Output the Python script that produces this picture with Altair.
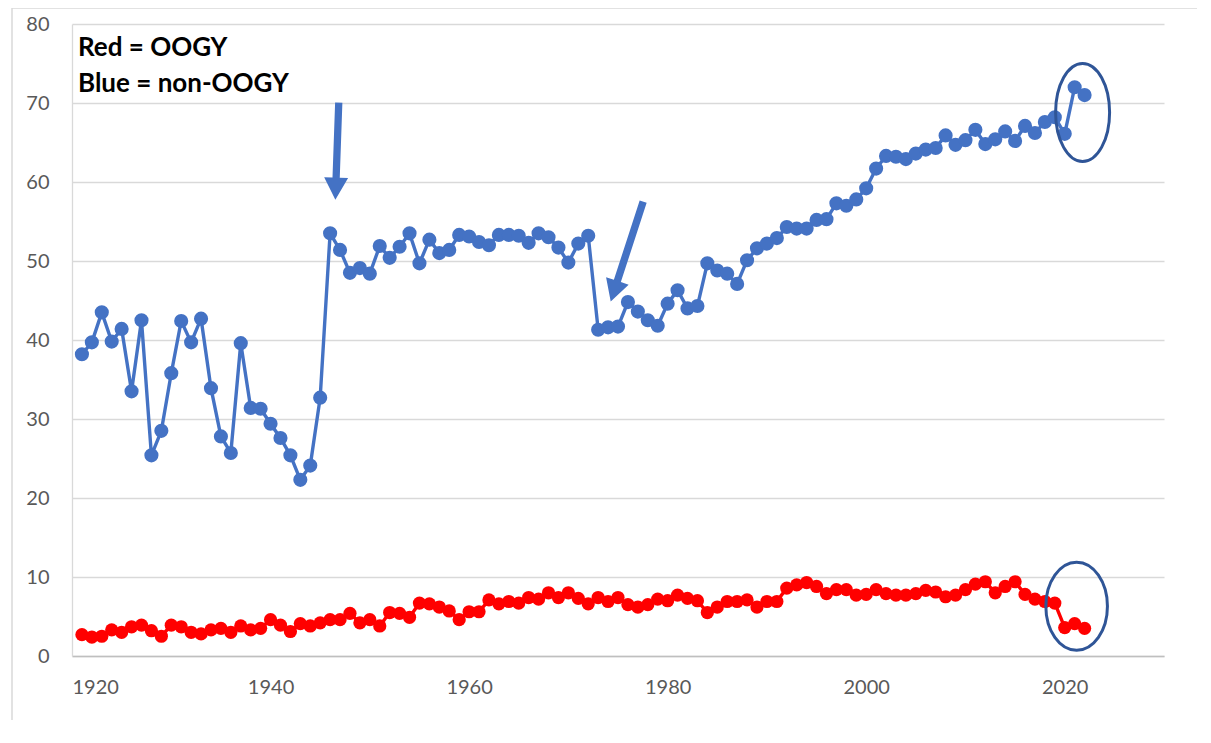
import altair as alt
import pandas as pd

# ---------------- data ----------------
years = list(range(1921, 2023))

non_oogy = [  # blue series, 1921-2022
    38.2, 39.7, 43.5, 39.8, 41.4, 33.5, 42.5, 25.4, 28.5, 35.8,
    42.4, 39.7, 42.7, 33.9, 27.8, 25.7, 39.6, 31.4, 31.3, 29.4,
    27.6, 25.4, 22.3, 24.1, 32.7, 53.5, 51.4, 48.5, 49.1, 48.4,
    51.9, 50.4, 51.8, 53.5, 49.7, 52.7, 51.0, 51.4, 53.3, 53.1,
    52.4, 52.0, 53.3, 53.3, 53.2, 52.3, 53.5, 53.0, 51.7, 49.8,
    52.2, 53.2, 41.3, 41.6, 41.7, 44.8, 43.6, 42.5, 41.8, 44.6,
    46.3, 44.0, 44.3, 49.7, 48.8, 48.4, 47.1, 50.1, 51.6, 52.2,
    52.9, 54.3, 54.1, 54.1, 55.2, 55.3, 57.3, 57.0, 57.8, 59.2,
    61.7, 63.3, 63.2, 62.9, 63.6, 64.1, 64.3, 65.9, 64.7, 65.3,
    66.6, 64.8, 65.4, 66.4, 65.2, 67.1, 66.2, 67.6, 68.2, 66.1,
    72.0, 71.0,
]

oogy = [  # red series, 1921-2022
    2.7, 2.4, 2.5, 3.3, 3.0, 3.7, 3.9, 3.2, 2.5, 3.9,
    3.7, 3.0, 2.8, 3.3, 3.5, 3.0, 3.8, 3.3, 3.5, 4.6,
    3.9, 3.1, 4.1, 3.8, 4.2, 4.6, 4.6, 5.4, 4.2, 4.6,
    3.8, 5.5, 5.4, 4.9, 6.7, 6.6, 6.2, 5.7, 4.6, 5.6,
    5.6, 7.1, 6.6, 6.9, 6.7, 7.4, 7.2, 8.0, 7.4, 8.0,
    7.3, 6.6, 7.4, 6.9, 7.4, 6.5, 6.2, 6.5, 7.2, 7.0,
    7.7, 7.3, 7.0, 5.5, 6.2, 6.9, 6.9, 7.1, 6.2, 6.9,
    6.9, 8.6, 9.0, 9.3, 8.8, 7.9, 8.4, 8.4, 7.7, 7.8,
    8.4, 7.9, 7.7, 7.7, 7.9, 8.3, 8.1, 7.5, 7.7, 8.4,
    9.1, 9.4, 8.0, 8.8, 9.4, 7.8, 7.2, 6.9, 6.7, 3.6,
    4.1, 3.5,
]

x_ticks = [1920, 1940, 1960, 1980, 2000, 2020]
y_ticks = [0, 10, 20, 30, 40, 50, 60, 70, 80]

# annotation anchors (data coordinates)
arrow_years = [1946.7, 1975.9]
arrow_values = [63.9, 51.2]
ellipse_years = [2021.8, 2021.2]
ellipse_values = [68.8, 6.3]

legend_lines = ["Red = OOGY", "Blue = non-OOGY"]

# ---------------- styling ----------------
BLUE = "#4472C4"
RED = "#FF0000"
DARK = "#2F5597"
GRID = "#D9D9D9"
FONT = "Lato"

df_blue = pd.DataFrame({"year": years, "value": non_oogy})
df_red = pd.DataFrame({"year": years, "value": oogy})

xs = alt.Scale(domain=[1920, 2030], nice=False, zero=False)
ys = alt.Scale(domain=[0, 80], nice=False)

x_enc = alt.X("year:Q", scale=xs, title=None,
              axis=alt.Axis(values=x_ticks, format="d", grid=False, ticks=False, tickSize=0,
                            domainColor="#BFBFBF", domainWidth=1.5, labelPadding=21,
                            labelFontSize=20, labelFont=FONT, labelColor="#595959"))
y_enc = alt.Y("value:Q", scale=ys, title=None,
              axis=alt.Axis(values=y_ticks, grid=True, gridColor=GRID, gridWidth=1.3,
                            ticks=False, tickSize=0, domainColor=GRID, domainWidth=1.3,
                            labelPadding=23, labelFontSize=20, labelFont=FONT,
                            labelColor="#595959"))

blue_line = alt.Chart(df_blue).mark_line(color=BLUE, strokeWidth=3.4).encode(x=x_enc, y=y_enc)
blue_pts = alt.Chart(df_blue).mark_circle(color=BLUE, size=200, opacity=1).encode(x="year:Q", y="value:Q")
red_line = alt.Chart(df_red).mark_line(color=RED, strokeWidth=3.4).encode(x="year:Q", y="value:Q")
red_pts = alt.Chart(df_red).mark_circle(color=RED, size=175, opacity=1).encode(x="year:Q", y="value:Q")

# arrows (custom symbol paths pointing down, tip at +1)
arrow1_path = "M -0.075 -1 L 0.075 -1 L 0.075 0.546 L 0.247 0.546 L 0 1 L -0.247 0.546 L -0.075 0.546 Z"
arrow2_path = "M -0.07 -1 L 0.07 -1 L 0.07 0.59 L 0.226 0.59 L 0 1 L -0.226 0.59 L -0.07 0.59 Z"
df_a1 = pd.DataFrame({"year": [arrow_years[0]], "value": [arrow_values[0]]})
df_a2 = pd.DataFrame({"year": [arrow_years[1]], "value": [arrow_values[1]]})
arrow1 = alt.Chart(df_a1).mark_point(shape=arrow1_path, size=9409, filled=True, fill=BLUE,
                                      strokeWidth=0, opacity=1, angle=2).encode(x="year:Q", y="value:Q")
arrow2 = alt.Chart(df_a2).mark_point(shape=arrow2_path, size=11025, filled=True, fill=BLUE,
                                      strokeWidth=0, opacity=1, angle=18).encode(x="year:Q", y="value:Q")

# ellipses (bezier approximations, unit height)
ell1_path = ("M 0 -1 C 0.304 -1 0.551 -0.552 0.551 0 C 0.551 0.552 0.304 1 0 1 "
             "C -0.304 1 -0.551 0.552 -0.551 0 C -0.551 -0.552 -0.304 -1 0 -1 Z")
ell2_path = ("M 0 -1 C 0.387 -1 0.70 -0.552 0.70 0 C 0.70 0.552 0.387 1 0 1 "
             "C -0.387 1 -0.70 0.552 -0.70 0 C -0.70 -0.552 -0.387 -1 0 -1 Z")
df_e1 = pd.DataFrame({"year": [ellipse_years[0]], "value": [ellipse_values[0]]})
df_e2 = pd.DataFrame({"year": [ellipse_years[1]], "value": [ellipse_values[1]]})
ell1 = alt.Chart(df_e1).mark_point(shape=ell1_path, size=9604, filled=False, stroke=DARK,
                                    strokeWidth=3, opacity=1).encode(x="year:Q", y="value:Q")
ell2 = alt.Chart(df_e2).mark_point(shape=ell2_path, size=7744, filled=False, stroke=DARK,
                                    strokeWidth=3, opacity=1).encode(x="year:Q", y="value:Q")

# legend-like text
txt1 = alt.Chart(pd.DataFrame({"t": [legend_lines[0]]})).mark_text(
    align="left", baseline="alphabetic", font=FONT, fontWeight="bold", fontSize=26, color="black"
).encode(text="t:N", x=alt.value(6), y=alt.value(32))
txt2 = alt.Chart(pd.DataFrame({"t": [legend_lines[1]]})).mark_text(
    align="left", baseline="alphabetic", font=FONT, fontWeight="bold", fontSize=26, color="black"
).encode(text="t:N", x=alt.value(6), y=alt.value(68))

# outer frame lines of the original chart box
frame_left = alt.Chart(pd.DataFrame({"a": [0]})).mark_rule(color=GRID, strokeWidth=1.5).encode(
    x=alt.value(-60), y=alt.value(-16), y2=alt.value(712))
frame_top = alt.Chart(pd.DataFrame({"a": [0]})).mark_rule(color=GRID, strokeWidth=1.5).encode(
    x=alt.value(-60), x2=alt.value(1125), y=alt.value(-16))

chart = alt.layer(
    blue_line, blue_pts, red_line, red_pts, arrow1, arrow2, ell1, ell2, txt1, txt2,
    frame_left, frame_top
).properties(
    width=1092, height=632,
    autosize=alt.AutoSizeParams(type="none"),
    padding={"left": 64, "top": 16, "right": 33, "bottom": 64},
).configure_view(stroke=None)

chart.save("out.html", embed_options={"renderer": "svg", "actions": False})
